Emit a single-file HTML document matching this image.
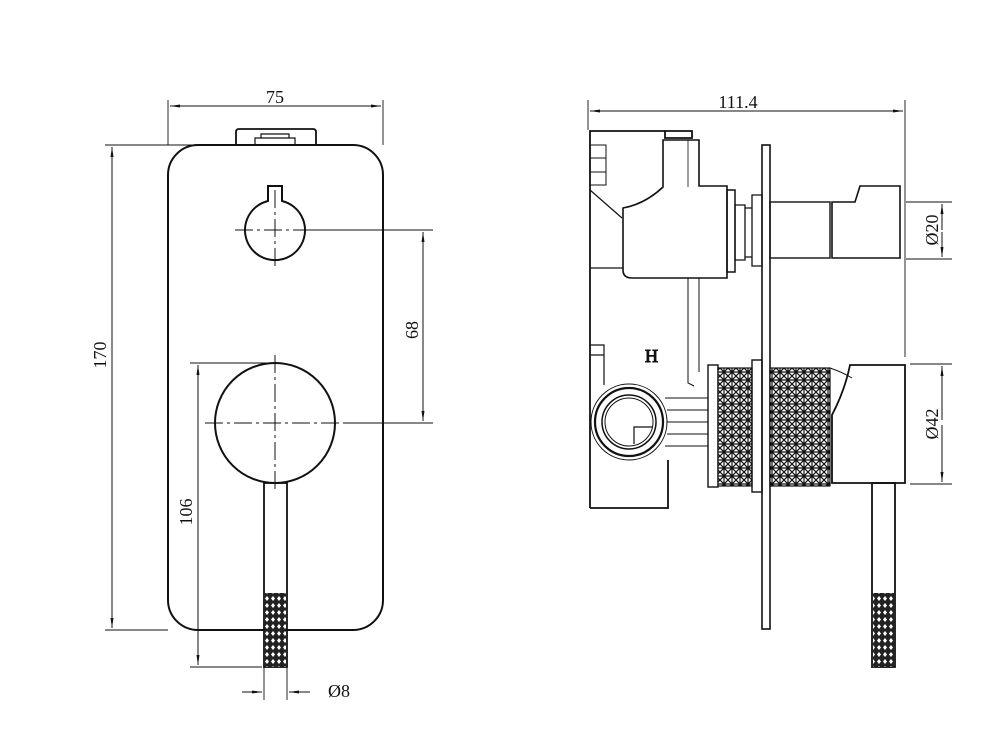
<!DOCTYPE html>
<html><head><meta charset="utf-8"><style>
html,body{margin:0;padding:0;background:#fff}
svg{display:block}
text{font-family:"Liberation Serif",serif;fill:#111}
</style></head><body>
<svg width="1002" height="744" viewBox="0 0 1002 744" xmlns="http://www.w3.org/2000/svg">
<defs>
<pattern id="kn" width="6" height="7" patternUnits="userSpaceOnUse">
<rect width="6" height="7" fill="#222"/>
<path d="M3 1 L5 3.5 L3 6 L1 3.5Z" fill="#fff"/>
</pattern>
<pattern id="kn2" width="8" height="8" patternUnits="userSpaceOnUse">
<rect width="8" height="8" fill="#fff"/>
<path d="M0 0 L8 8 M8 0 L0 8 M4 0 V8 M0 4 H8" stroke="#111" stroke-width="1.2"/>
</pattern>
<marker id="ar" markerWidth="10" markerHeight="6" refX="10" refY="3" orient="auto" markerUnits="userSpaceOnUse">
<path d="M0 1.5 L10 3 L0 4.5Z" fill="#111"/>
</marker>
</defs>
<g fill="none" stroke="#111">
<!-- FRONT VIEW -->
<rect x="168" y="145" width="215" height="485" rx="30" stroke-width="2"/>
<path d="M236 145 V132 Q236 129 239 129 H313 Q316 129 316 132 V145" stroke-width="1.8"/>
<path d="M255 145 V138 H295 V145 M261 138 V134 H289 V138" stroke-width="1.2"/>
<path d="M268 186 H282 V201 A30 30 0 1 1 268 201 Z" stroke-width="2"/>
<circle cx="275" cy="423" r="60" stroke-width="2"/>
<rect x="264" y="483" width="23" height="184" stroke-width="1.8"/>
<rect x="265" y="593" width="21" height="74" fill="url(#kn)" stroke="none"/>
<g stroke-width="1" stroke-dasharray="18,4,3,4">
<path d="M235 230 H320 M275 190 V270 M205 423 H345 M275 355 V490"/>
</g>
<g stroke-width="0.9">
<path d="M168 100 V145 M383 100 V145"/>
<path d="M105 145 H200 M105 630 H168"/>
<path d="M300 230 H433 M345 423 H433"/>
<path d="M190 363 H270 M190 667 H262"/>
<path d="M264 667 V700 M287 667 V700"/>
<path d="M588 100 V130 M905 100 V357"/>
<path d="M906 202 H952 M906 259 H952 M910 364 H952 M910 484 H952"/>
</g>
<g stroke-width="1">
<line x1="200" y1="106" x2="170" y2="106" marker-end="url(#ar)"/>
<line x1="350" y1="106" x2="381" y2="106" marker-end="url(#ar)"/>
<line x1="200" y1="106" x2="350" y2="106"/>
<line x1="112" y1="300" x2="112" y2="147" marker-end="url(#ar)"/>
<line x1="112" y1="400" x2="112" y2="628" marker-end="url(#ar)"/>
<line x1="112" y1="300" x2="112" y2="400"/>
<line x1="423" y1="300" x2="423" y2="232" marker-end="url(#ar)"/>
<line x1="423" y1="350" x2="423" y2="421" marker-end="url(#ar)"/>
<line x1="423" y1="300" x2="423" y2="350"/>
<line x1="198" y1="500" x2="198" y2="365" marker-end="url(#ar)"/>
<line x1="198" y1="520" x2="198" y2="665" marker-end="url(#ar)"/>
<line x1="198" y1="500" x2="198" y2="520"/>
<line x1="242" y1="692" x2="262" y2="692" marker-end="url(#ar)"/>
<line x1="310" y1="692" x2="289" y2="692" marker-end="url(#ar)"/>
<line x1="620" y1="111" x2="590" y2="111" marker-end="url(#ar)"/>
<line x1="870" y1="111" x2="903" y2="111" marker-end="url(#ar)"/>
<line x1="620" y1="111" x2="870" y2="111"/>
<line x1="942" y1="230" x2="942" y2="204" marker-end="url(#ar)"/>
<line x1="942" y1="232" x2="942" y2="257" marker-end="url(#ar)"/>
<line x1="942" y1="420" x2="942" y2="366" marker-end="url(#ar)"/>
<line x1="942" y1="425" x2="942" y2="482" marker-end="url(#ar)"/>
</g>
<!-- SIDE VIEW -->
<g stroke-width="1.8">
<path d="M590 508 V131 H665 M590 508 H668 V460"/>
<path d="M665 131 H692 V138 H665 Z"/>
<path d="M663 140 H699 V186 H727 V278 H632 Q623 278 623 270 V208 Q645 204 663 187 Z" stroke-width="1.6"/>
<path d="M688 140 V187" stroke-width="0.8"/>
<rect x="727" y="190" width="8" height="82" stroke-width="1.5"/>
<path d="M735 205 H745 V260 H735 Z M752 195 H762 V266 H752Z M745 208 H752 V257 H745" stroke-width="1.3"/>
<rect x="762" y="145" width="8" height="484" stroke-width="1.6"/>
<rect x="770" y="202" width="60" height="56" stroke-width="1.4"/>
<path d="M832 202 H855 L860 186 H900 V258 H832 Z" stroke-width="1.6"/>
<path d="M590 145 H606 V185 H590 M590 158 H606 M590 172 H606" stroke-width="1"/>
<path d="M590 190 L622 218 M590 268 H623" stroke-width="1.2"/>
<path d="M688 278 V383 L694 386 M699 278 V372" stroke-width="1"/>
<path d="M590 345 H604 V385 M590 355 H604" stroke-width="1.2"/>
<circle cx="629" cy="422" r="38" stroke-width="1"/>
<circle cx="629" cy="422" r="34" stroke-width="2.2"/>
<circle cx="629" cy="422" r="27" stroke-width="1.5"/>
<circle cx="629" cy="422" r="24" stroke-width="1"/>
<path d="M652 427 H634 V444" stroke-width="1.2"/>
<path d="M665 398 H708 M667 410 H708 M667 422 H708 M667 434 H708 M665 446 H708" stroke-width="0.9"/>
<rect x="708" y="365" width="10" height="122" stroke-width="1.4"/>
<rect x="718" y="368" width="34" height="118" fill="url(#kn2)" stroke-width="1.2"/>
<rect x="752" y="360" width="10" height="132" stroke-width="1.4"/>
<rect x="770" y="368" width="60" height="118" fill="url(#kn2)" stroke-width="1.2"/>
<path d="M850 365 H905 V483 H832 V415 Q845 390 850 365 Z" stroke-width="1.8"/>
<path d="M830 368 Q842 372 852 378" stroke-width="1"/>
<rect x="872" y="483" width="23" height="184" stroke-width="1.8"/>
<rect x="873" y="593" width="21" height="74" fill="url(#kn)" stroke="none"/>
</g>
</g>
<text x="645" y="362" font-family="Liberation Sans,sans-serif" font-size="18" fill="none" stroke="#111" stroke-width="1">H</text>
<g font-size="18">
<text x="275" y="103" text-anchor="middle">75</text>
<text x="738" y="108" text-anchor="middle">111.4</text>
<text transform="translate(106,355) rotate(-90)" text-anchor="middle">170</text>
<text transform="translate(418,330) rotate(-90)" text-anchor="middle">68</text>
<text transform="translate(192,512) rotate(-90)" text-anchor="middle">106</text>
<text x="328" y="697">Ø8</text>
<text transform="translate(938,230) rotate(-90)" text-anchor="middle">Ø20</text>
<text transform="translate(938,424) rotate(-90)" text-anchor="middle">Ø42</text>
</g>
</svg>
</body></html>
